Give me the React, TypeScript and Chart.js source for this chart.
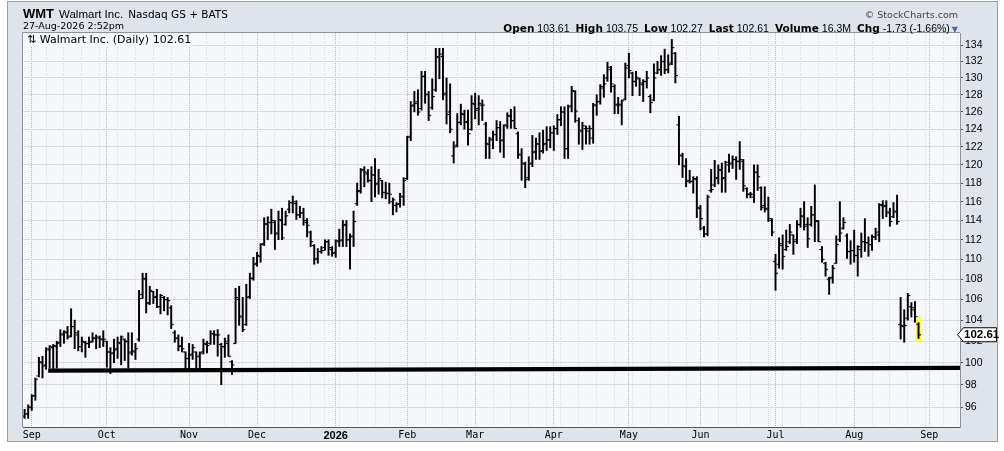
import React, { useEffect, useRef } from 'react';
import { Chart, registerables } from 'chart.js';

Chart.register(...registerables);

// ---------- calendar ----------
const FIRST_DAY = { y: 2025, m: 7, d: 28 }; // 28-Aug-2025 (month is 0-based)
const HOLIDAYS = [
  '2025-09-01', '2025-11-27', '2025-12-25', '2026-01-01', '2026-01-19',
  '2026-02-16', '2026-04-03', '2026-05-25', '2026-06-19', '2026-07-03', '2026-09-07',
];
const AXIS_SLOTS = 262; // trading-day slots on the time axis (incl. a few future days)
const MONTH_LABELS = ['Sep', 'Oct', 'Nov', 'Dec', '2026', 'Feb', 'Mar', 'Apr', 'May', 'Jun', 'Jul', 'Aug', 'Sep'];

// ---------- price data (daily OHLC) ----------
const highs = [
  95.8, 96.2, 97.1, 98.6, 100.5, 100.6, 101.4, 101.6, 101.7, 102.0,
  103.1, 103.0, 103.4, 105.1, 104.0, 103.0, 102.4, 102.0, 102.4, 102.8,
  102.6, 102.5, 103.0, 102.0, 101.4, 102.2, 102.4, 102.5, 102.2, 102.8,
  102.8, 101.8, 106.9, 108.6, 108.6, 107.3, 106.8, 107.0, 106.5, 106.3,
  106.2, 105.4, 103.0, 102.6, 102.4, 101.0, 101.8, 101.7, 101.0, 101.0,
  102.2, 102.0, 103.0, 103.0, 103.1, 101.8, 102.3, 102.6, 100.2, 107.1,
  107.3, 106.2, 107.5, 108.6, 110.2, 110.7, 111.6, 114.3, 114.4, 115.2,
  114.0, 115.0, 115.3, 115.0, 116.1, 116.6, 116.1, 115.5, 115.3, 114.2,
  112.9, 111.5, 111.1, 111.3, 112.0, 112.0, 111.3, 112.0, 113.1, 114.0,
  114.0, 112.6, 115.0, 118.0, 119.6, 119.8, 119.5, 119.8, 120.7, 119.5,
  118.3, 118.1, 118.0, 116.4, 115.9, 116.9, 118.6, 123.2, 127.2, 128.4,
  128.6, 130.8, 130.8, 128.4, 129.9, 133.6, 133.6, 133.6, 130.0, 129.3,
  122.6, 125.8, 126.9, 126.2, 126.2, 127.9, 128.2, 127.9, 127.4, 124.8,
  123.1, 123.8, 125.0, 124.9, 124.5, 125.9, 126.3, 126.6, 123.7, 121.8,
  120.3, 120.9, 123.3, 123.0, 123.6, 123.9, 124.3, 124.3, 124.4, 125.7,
  126.6, 126.6, 126.8, 129.0, 128.5, 125.3, 124.8, 124.4, 124.4, 127.0,
  128.0, 129.2, 130.4, 131.9, 131.4, 129.2, 127.7, 127.4, 131.8, 133.0,
  130.7, 130.8, 130.0, 129.8, 130.8, 128.0, 131.7, 132.0, 132.7, 133.5,
  132.8, 134.7, 133.1, 125.5, 121.3, 120.7, 119.4, 118.7, 118.7, 115.6,
  113.4, 116.7, 119.5, 120.5, 120.0, 120.2, 120.4, 121.2, 121.0, 120.9,
  122.6, 120.6, 117.5, 117.0, 120.0, 120.0, 117.6, 117.6, 116.5, 114.2,
  110.5, 112.2, 112.5, 113.0, 113.6, 112.5, 114.0, 115.3, 116.0, 114.3,
  115.5, 117.8, 114.0, 111.3, 109.7, 108.2, 109.4, 112.4, 116.0, 114.3,
  112.6, 111.9, 113.0, 111.4, 112.7, 114.2, 112.3, 112.5, 113.2, 115.8,
  116.1, 116.1, 115.3, 115.9, 116.7, 106.2, 105.0, 106.6, 105.7, 105.8,
  103.75,
];
const lows = [
  95.0, 95.0, 95.7, 96.6, 98.7, 98.6, 99.4, 99.5, 99.4, 99.5,
  101.5, 101.8, 102.2, 102.4, 101.3, 101.1, 101.0, 100.5, 101.4, 101.9,
  101.3, 101.4, 101.5, 99.6, 99.0, 100.0, 100.4, 99.8, 100.2, 99.5,
  100.7, 100.3, 102.0, 106.1, 104.7, 105.5, 105.6, 105.2, 104.6, 104.9,
  104.5, 103.2, 101.9, 101.1, 101.0, 99.5, 99.4, 100.3, 99.5, 99.5,
  100.8, 100.9, 101.7, 101.7, 100.6, 98.0, 100.5, 100.6, 98.9, 101.8,
  103.5, 102.9, 103.5, 106.1, 107.9, 109.3, 109.7, 111.4, 112.0, 112.6,
  111.0, 112.0, 112.0, 113.5, 114.8, 114.8, 114.1, 114.3, 113.5, 112.3,
  111.3, 109.5, 109.6, 110.6, 110.9, 110.4, 110.3, 110.2, 111.3, 111.3,
  111.3, 109.0, 111.3, 115.6, 116.9, 117.6, 118.1, 116.0, 116.5, 116.8,
  116.4, 116.3, 115.8, 114.6, 114.9, 115.4, 115.6, 118.4, 122.7, 126.0,
  125.6, 126.2, 127.0, 125.0, 126.3, 128.4, 129.9, 127.4, 124.6, 123.6,
  120.2, 122.0, 124.5, 124.0, 122.2, 123.9, 125.2, 124.5, 125.0, 120.7,
  120.7, 121.8, 122.7, 121.4, 120.8, 124.1, 124.1, 124.1, 120.7, 118.3,
  117.5, 118.3, 119.8, 120.6, 120.6, 121.3, 121.6, 121.9, 121.6, 123.4,
  124.4, 120.7, 120.7, 126.0, 124.8, 122.3, 121.7, 122.3, 122.3, 122.4,
  125.6, 126.9, 127.7, 129.6, 128.3, 125.8, 125.8, 124.5, 127.4, 130.0,
  127.9, 129.0, 127.9, 127.2, 128.8, 125.9, 127.3, 130.5, 130.3, 130.5,
  130.6, 131.6, 129.4, 120.0, 118.6, 117.6, 118.0, 116.9, 114.3, 113.0,
  112.3, 112.4, 117.0, 117.6, 117.9, 117.0, 117.0, 119.2, 119.6, 118.4,
  119.5, 117.1, 116.4, 116.4, 115.9, 117.2, 115.1, 114.9, 113.9, 112.4,
  106.9, 109.1, 109.0, 110.9, 111.6, 110.5, 111.6, 113.3, 113.0, 111.2,
  113.4, 111.8, 111.8, 109.7, 108.3, 106.5, 107.6, 109.6, 111.8, 113.1,
  110.1, 109.5, 109.7, 108.3, 110.2, 110.8, 110.3, 110.9, 112.0, 111.8,
  114.2, 114.4, 113.4, 114.3, 113.6, 102.2, 101.9, 104.0, 104.3, 103.8,
  102.27,
];
const opens = [
  95.2, 95.4, 96.0, 97.0, 98.8, 100.0, 99.8, 101.2, 101.4, 101.5,
  101.9, 102.7, 102.8, 102.5, 103.4, 102.6, 101.5, 101.9, 101.8, 102.0,
  102.3, 102.3, 102.2, 102.0, 101.0, 100.9, 101.3, 101.8, 102.2, 102.0,
  101.0, 101.0, 102.2, 106.5, 108.0, 105.7, 106.8, 106.3, 105.3, 106.2,
  106.0, 105.2, 102.8, 102.3, 101.6, 101.0, 100.4, 100.8, 101.0, 100.6,
  101.0, 101.7, 101.8, 102.7, 102.6, 101.7, 101.5, 101.8, 100.1, 101.8,
  106.0, 104.3, 103.6, 106.3, 108.1, 109.6, 110.3, 111.6, 113.6, 113.8,
  113.8, 112.7, 114.0, 113.6, 115.2, 115.9, 115.8, 114.6, 114.8, 113.8,
  112.8, 111.4, 110.1, 110.8, 111.2, 111.8, 111.0, 110.7, 111.8, 112.0,
  113.6, 112.0, 112.4, 115.8, 117.2, 119.4, 119.0, 118.3, 118.9, 118.0,
  118.3, 117.0, 116.9, 116.0, 115.6, 115.8, 116.5, 118.5, 123.2, 126.8,
  127.2, 126.4, 130.2, 128.0, 126.5, 128.6, 132.5, 132.6, 128.2, 126.0,
  121.0, 122.2, 124.8, 125.7, 124.9, 124.0, 126.9, 126.4, 126.8, 124.6,
  122.3, 122.8, 123.4, 124.2, 122.8, 124.4, 125.5, 125.0, 123.5, 121.1,
  120.1, 118.6, 120.2, 121.5, 122.3, 121.6, 122.4, 122.8, 123.6, 124.1,
  125.1, 126.0, 121.8, 126.7, 128.4, 125.0, 123.8, 124.1, 123.8, 123.0,
  126.8, 127.2, 128.8, 130.0, 131.0, 129.0, 126.8, 126.8, 127.5, 131.5,
  130.6, 129.6, 129.9, 129.2, 129.6, 127.8, 127.4, 130.6, 131.0, 132.0,
  131.0, 131.8, 133.0, 124.5, 121.0, 119.8, 118.3, 118.2, 118.4, 115.3,
  113.2, 112.6, 117.2, 117.8, 118.6, 119.4, 118.6, 120.0, 120.2, 120.6,
  120.4, 120.4, 117.4, 116.8, 116.5, 119.2, 117.5, 115.6, 115.2, 114.0,
  109.8, 109.5, 111.4, 111.0, 111.8, 112.5, 112.0, 113.6, 114.4, 113.6,
  113.6, 114.6, 114.0, 111.0, 109.6, 108.0, 108.2, 109.6, 112.0, 113.2,
  112.4, 110.8, 110.9, 110.4, 111.0, 111.8, 111.7, 111.5, 112.3, 112.5,
  115.6, 115.6, 114.8, 114.4, 115.0, 103.6, 103.4, 104.2, 105.3, 105.0,
  103.61,
];
const closes = [
  95.4, 96.0, 97.0, 98.5, 100.1, 99.7, 101.3, 101.5, 101.6, 101.8,
  102.6, 102.9, 102.4, 103.4, 102.8, 101.5, 102.0, 101.8, 101.9, 102.3,
  102.4, 102.2, 102.2, 101.0, 100.9, 101.2, 101.9, 102.4, 102.0, 100.9,
  101.1, 101.3, 106.1, 108.1, 105.6, 106.9, 106.2, 105.3, 106.4, 106.0,
  105.9, 103.6, 102.3, 101.5, 101.3, 100.4, 100.7, 101.4, 100.6, 100.9,
  101.8, 101.6, 102.7, 102.6, 102.6, 101.5, 102.0, 100.6, 99.8, 106.2,
  104.4, 103.1, 106.2, 108.1, 109.5, 110.4, 111.5, 113.7, 113.8, 114.0,
  112.6, 114.1, 112.2, 114.5, 115.9, 116.0, 114.6, 114.8, 114.0, 113.5,
  111.8, 110.0, 110.8, 110.9, 111.8, 111.2, 110.6, 111.9, 111.9, 113.5,
  112.0, 112.3, 113.9, 117.1, 119.5, 119.2, 118.3, 118.9, 117.9, 118.5,
  117.0, 116.9, 116.8, 116.2, 115.7, 116.6, 118.3, 123.1, 126.7, 127.0,
  126.0, 130.2, 128.1, 125.6, 127.8, 132.6, 132.9, 128.0, 125.7, 124.0,
  122.0, 124.8, 125.8, 124.8, 123.5, 127.0, 126.2, 127.0, 126.8, 122.4,
  122.9, 123.4, 124.2, 122.7, 124.5, 125.6, 125.0, 124.1, 121.2, 120.2,
  118.4, 120.1, 121.4, 122.4, 121.5, 122.3, 122.8, 123.6, 124.1, 125.1,
  126.0, 121.8, 126.6, 128.5, 126.1, 123.9, 124.4, 124.1, 124.1, 126.8,
  127.2, 129.0, 129.3, 131.3, 129.3, 126.9, 126.9, 127.3, 131.2, 130.9,
  129.6, 130.1, 129.4, 129.6, 130.0, 127.1, 130.0, 131.0, 132.0, 131.0,
  131.6, 133.7, 130.3, 121.1, 119.9, 118.2, 118.2, 118.5, 115.4, 114.2,
  112.6, 116.5, 117.3, 118.5, 119.5, 118.5, 120.3, 120.1, 120.6, 120.4,
  120.6, 117.7, 116.8, 116.8, 119.2, 118.7, 115.4, 115.3, 114.2, 112.8,
  108.6, 111.6, 110.3, 111.3, 112.8, 111.8, 113.6, 114.5, 113.4, 112.1,
  114.6, 113.9, 111.8, 110.0, 109.0, 108.1, 109.1, 111.5, 112.7, 113.8,
  110.8, 110.9, 110.4, 111.3, 111.8, 111.7, 111.5, 112.3, 112.8, 115.7,
  115.5, 114.9, 113.9, 114.9, 113.9, 103.5, 103.5, 106.4, 105.2, 104.34,
  102.61,
];
const VOLUME_TEXT = '16.3M';

// hand-drawn support line (x in trading-day slots, y in price)
const trendX = [6.6, 261.6];
const trendY = [99.28, 99.52];

// price axis
const Y_TICKS = [96, 98, 100, 102, 104, 106, 108, 110, 112, 114, 116, 118, 120, 122, 124, 126, 128, 130, 132, 134];
const Y_MIN = 94.25;
const Y_MAX = 135.5;
const X_MIN = -0.45;
const X_MAX = 261.6;

// ---------- styling ----------
const PANEL = '#dfe3eb';
const PLOT_BG = '#f6f7fb';
const GRID = '#d9dce5';
const GRID_MONTH = '#b3b7c1';
const FRAME = '#8e939c';

function tradingDays(): Date[] {
  const out: Date[] = [];
  const d = new Date(Date.UTC(FIRST_DAY.y, FIRST_DAY.m, FIRST_DAY.d));
  while (out.length < AXIS_SLOTS) {
    const wd = d.getUTCDay();
    const iso = d.toISOString().slice(0, 10);
    if (wd !== 0 && wd !== 6 && !HOLIDAYS.includes(iso)) out.push(new Date(d.getTime()));
    d.setUTCDate(d.getUTCDate() + 1);
  }
  return out;
}

function makeTick(side: 'L' | 'R'): HTMLCanvasElement {
  const c = document.createElement('canvas');
  c.width = 9;
  c.height = 3;
  const g = c.getContext('2d')!;
  g.fillStyle = '#000';
  if (side === 'L') g.fillRect(2, 1, 2.5, 1.1);
  else g.fillRect(4.5, 1, 2.5, 1.1);
  return c;
}

export default function App() {
  const ref = useRef<HTMLCanvasElement>(null);
  const last = closes.length - 1;
  const chg = closes[last] - closes[last - 1];
  const chgPct = (chg / closes[last - 1]) * 100;

  useEffect(() => {
    const days = tradingDays();
    const monthStarts: number[] = [];
    const weekStarts: number[] = [];
    for (let i = 1; i < days.length; i++) {
      if (days[i].getUTCMonth() !== days[i - 1].getUTCMonth()) monthStarts.push(i);
      if (days[i].getUTCDay() < days[i - 1].getUTCDay()) weekStarts.push(i);
    }
    const monthSet = new Set(monthStarts);
    const labelFor = new Map<number, string>();
    monthStarts.forEach((idx, k) => labelFor.set(idx, MONTH_LABELS[k] ?? ''));
    const xTicks = Array.from(new Set([...weekStarts, ...monthStarts])).sort((a, b) => a - b);

    const rangeData = highs.map((h, i) => ({ x: i, y: [lows[i], h] }));
    const openData = opens.map((o, i) => ({ x: i, y: o }));
    const closeData = closes.map((c, i) => ({ x: i, y: c }));
    const hiliteData = [{ x: last, y: [lows[last] - 0.35, highs[last] + 0.45] }];
    const trendData = trendX.map((x, i) => ({ x, y: trendY[i] }));

    const bgPlugin = {
      id: 'panelBg',
      beforeDraw(chart: any) {
        const { ctx, chartArea: a, width, height } = chart;
        ctx.save();
        ctx.fillStyle = '#ffffff';
        ctx.fillRect(0, 0, width, height);
        ctx.fillStyle = PANEL;
        ctx.fillRect(8, 2, 989, 439);
        ctx.strokeStyle = '#9aa0aa';
        ctx.lineWidth = 1;
        ctx.strokeRect(7.5, 1.5, 990, 440);
        ctx.fillStyle = PLOT_BG;
        ctx.fillRect(a.left, a.top, a.right - a.left, a.bottom - a.top);
        ctx.restore();
      },
      afterDraw(chart: any) {
        const { ctx, chartArea: a } = chart;
        ctx.save();
        ctx.strokeStyle = FRAME;
        ctx.lineWidth = 1;
        ctx.beginPath();
        ctx.moveTo(Math.round(a.left) - 0.5, a.bottom);
        ctx.lineTo(Math.round(a.left) - 0.5, Math.round(a.top) - 0.5);
        ctx.lineTo(a.right, Math.round(a.top) - 0.5);
        ctx.stroke();
        // last-price callout on the price axis
        const y = chart.scales.y.getPixelForValue(closes[last]);
        const tip = a.right - 2.5;
        const h = 7;
        const right = 996.5;
        ctx.beginPath();
        ctx.moveTo(tip, y);
        ctx.lineTo(tip + 6, y - h);
        ctx.lineTo(right, y - h);
        ctx.lineTo(right, y + h);
        ctx.lineTo(tip + 6, y + h);
        ctx.closePath();
        ctx.fillStyle = '#ffffff';
        ctx.fill();
        ctx.strokeStyle = '#000';
        ctx.stroke();
        ctx.fillStyle = '#000';
        ctx.font = 'bold 11.5px "Liberation Sans"';
        ctx.textBaseline = 'middle';
        ctx.textAlign = 'left';
        ctx.fillText(closes[last].toFixed(2), tip + 6.5, y + 0.5);
        ctx.restore();
      },
    };

    const chart = new Chart(ref.current!, {
      type: 'bar',
      data: {
        datasets: [
          {
            type: 'line',
            data: trendData,
            borderColor: '#000',
            borderWidth: 4.2,
            pointRadius: 0,
            fill: false,
            order: 0,
          } as any,
          {
            type: 'scatter',
            data: openData,
            pointStyle: makeTick('L'),
            pointRadius: 3,
            order: 1,
          } as any,
          {
            type: 'scatter',
            data: closeData,
            pointStyle: makeTick('R'),
            pointRadius: 3,
            order: 1,
          } as any,
          {
            type: 'bar',
            data: rangeData,
            backgroundColor: '#000',
            borderWidth: 0,
            barThickness: 1.3,
            grouped: false,
            order: 2,
          } as any,
          {
            type: 'bar',
            data: hiliteData,
            backgroundColor: '#ffff4a',
            borderWidth: 0,
            barThickness: 5,
            grouped: false,
            order: 3,
          } as any,
        ],
      },
      options: {
        responsive: false,
        animation: false,
        events: [],
        layout: { padding: { left: 23, top: 33, right: 0, bottom: 0 } },
        plugins: {
          legend: { display: false },
          tooltip: { enabled: false },
          title: { display: false },
        },
        scales: {
          x: {
            type: 'linear',
            position: 'bottom',
            offset: false,
            min: X_MIN,
            max: X_MAX,
            afterBuildTicks: (s: any) => {
              s.ticks = xTicks.map((v) => ({ value: v }));
            },
            afterFit: (s: any) => {
              s.height = 24;
            },
            grid: {
              offset: false,
              color: (ctx: any) => (monthSet.has(ctx.tick?.value) ? GRID_MONTH : GRID),
              lineWidth: 1,
              drawTicks: false,
            },
            border: { display: true, color: '#555', dash: [1, 1] },
            ticks: {
              autoSkip: false,
              maxRotation: 0,
              padding: 2,
              color: '#000',
              font: (ctx: any) =>
                labelFor.get(ctx.tick?.value) === '2026'
                  ? { family: 'Liberation Sans', size: 11, weight: 'bold' }
                  : { family: 'DejaVu Sans Mono', size: 10 },
              callback: (v: any) => labelFor.get(v) ?? '',
            },
          },
          y: {
            type: 'logarithmic',
            position: 'right',
            offset: false,
            min: Y_MIN,
            max: Y_MAX,
            afterBuildTicks: (s: any) => {
              s.ticks = Y_TICKS.map((v) => ({ value: v }));
            },
            afterFit: (s: any) => {
              s.width = 44;
            },
            grid: { color: GRID, lineWidth: 1, drawTicks: true, tickLength: 3, tickColor: '#555' },
            border: { display: true, color: FRAME },
            ticks: {
              padding: 2,
              color: '#000',
              font: { family: 'Liberation Sans', size: 10.5 },
              callback: (v: any) => String(v),
            },
          },
        },
      } as any,
      plugins: [bgPlugin],
    });
    return () => chart.destroy();
  }, []);

  const lbl: React.CSSProperties = { font: 'bold 10.5px "DejaVu Sans"' };
  const val: React.CSSProperties = { font: '10.5px "Liberation Sans"', marginLeft: 3, marginRight: 6 };

  return (
    <div style={{ position: 'fixed', left: 0, top: 0, width: 1004, height: 451, background: '#fff', overflow: 'hidden' }}>
      <canvas ref={ref} width={1004} height={451} style={{ position: 'absolute', left: 0, top: 0, width: 1004, height: 451 }} />
      <div style={{ position: 'absolute', left: 23, top: 6, lineHeight: '13px', whiteSpace: 'nowrap', color: '#000' }}>
        <span style={{ font: 'bold 13px "Liberation Sans"' }}>WMT</span>
        <span style={{ font: '11.5px "Liberation Sans"', marginLeft: 5 }}>Walmart Inc.</span>
        <span style={{ font: '10.5px "DejaVu Sans"', marginLeft: 5 }}>Nasdaq GS + BATS</span>
      </div>
      <div style={{ position: 'absolute', left: 23, top: 20, font: '9.5px "DejaVu Sans"', lineHeight: '11px', whiteSpace: 'nowrap', color: '#000' }}>
        27-Aug-2026 2:52pm
      </div>
      <div style={{ position: 'absolute', right: 46, top: 9, font: '9.5px "DejaVu Sans"', lineHeight: '11px', color: '#444', whiteSpace: 'nowrap' }}>
        © StockCharts.com
      </div>
      <div style={{ position: 'absolute', right: 46, top: 21, lineHeight: '12px', whiteSpace: 'nowrap', color: '#000' }}>
        <span style={lbl}>Open</span><span style={val}>{opens[last].toFixed(2)}</span>
        <span style={lbl}>High</span><span style={val}>{highs[last].toFixed(2)}</span>
        <span style={lbl}>Low</span><span style={val}>{lows[last].toFixed(2)}</span>
        <span style={lbl}>Last</span><span style={val}>{closes[last].toFixed(2)}</span>
        <span style={lbl}>Volume</span><span style={val}>{VOLUME_TEXT}</span>
        <span style={lbl}>Chg</span>
        <span style={{ ...val, marginRight: 2 }}>
          {chg.toFixed(2)} ({chgPct.toFixed(2)}%)
        </span>
        <span style={{ font: '8px "DejaVu Sans"', color: '#4f6c9c' }}>▼</span>
      </div>
      <div
        style={{
          position: 'absolute',
          left: 25,
          top: 34,
          font: '11px "DejaVu Sans"',
          lineHeight: '12px',
          background: PLOT_BG,
          padding: '0 2px',
          whiteSpace: 'nowrap',
          color: '#000',
        }}
      >
        ⇅ Walmart Inc. (Daily) {closes[last].toFixed(2)}
      </div>
    </div>
  );
}
